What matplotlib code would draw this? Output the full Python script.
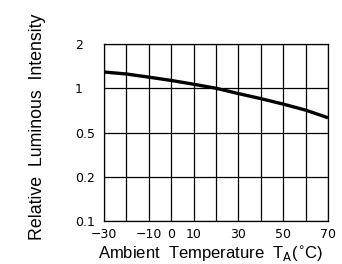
import numpy as np
import matplotlib.pyplot as plt

# curve
temp = [-30, -20, -10, 0, 10, 20, 30, 40, 50, 60, 70]
intensity = [1.29, 1.25, 1.19, 1.13, 1.065, 1.0, 0.92, 0.85, 0.78, 0.71, 0.63]

y_levels = [0.1, 0.2, 0.5, 1, 2]
y_labels = ["0.1", "0.2", "0.5", "1", "2"]
x_grid = list(range(-30, 71, 10))
x_ticks = [-30, -10, 0, 10, 30, 50, 70]
x_labels = ["\u221230", "\u221210", "0", "10", "30", "50", "70"]

# equally spaced gridlines for 0.1/0.2/0.5/1/2, log inside each step
lg = np.log10(y_levels)
idx = np.arange(len(y_levels))
def fwd(v):
    v = np.clip(np.asarray(v, dtype=float), 1e-6, None)
    return np.interp(np.log10(v), lg, idx, left=-1, right=5)
def inv(p):
    return 10 ** np.interp(p, idx, lg)

plt.rcParams['font.family'] = ['Liberation Sans', 'DejaVu Sans']
fig = plt.figure(figsize=(3.42, 2.64), dpi=100)
ax = fig.add_axes([104/342, 1 - 221/264, 224/342, 177/264])

ax.set_yscale('function', functions=(fwd, inv))
ax.set_xlim(-30, 70)
ax.set_ylim(0.1, 2)

for x in x_grid:
    ax.axvline(x, color='black', lw=0.9)
for y in y_levels:
    ax.axhline(y, color='black', lw=0.9)

ax.plot(temp, intensity, color='black', lw=2.4, solid_capstyle='butt')

ax.set_xticks(x_ticks)
ax.set_xticklabels(x_labels, fontsize=9, family='DejaVu Sans')
ax.set_yticks(y_levels)
ax.set_yticklabels(y_labels, fontsize=9, ha='left', family='DejaVu Sans')
ax.yaxis.set_minor_locator(plt.NullLocator())
ax.tick_params(length=0)
ax.tick_params(axis='y', pad=21)
ax.tick_params(axis='x', pad=5)
for s in ax.spines.values():
    s.set_linewidth(0.9)

fig.text(38/342, 1 - 127/264, "Relative  Luminous  Intensity", rotation=90,
         ha='center', va='center', fontsize=12.8)
fig.text(98/342, 1 - 259/264, "Ambient  Temperature  T$_{\\rm A}$($^{\\circ}$C)",
         ha='left', va='baseline', fontsize=12)

plt.savefig("out.png", dpi=100)
